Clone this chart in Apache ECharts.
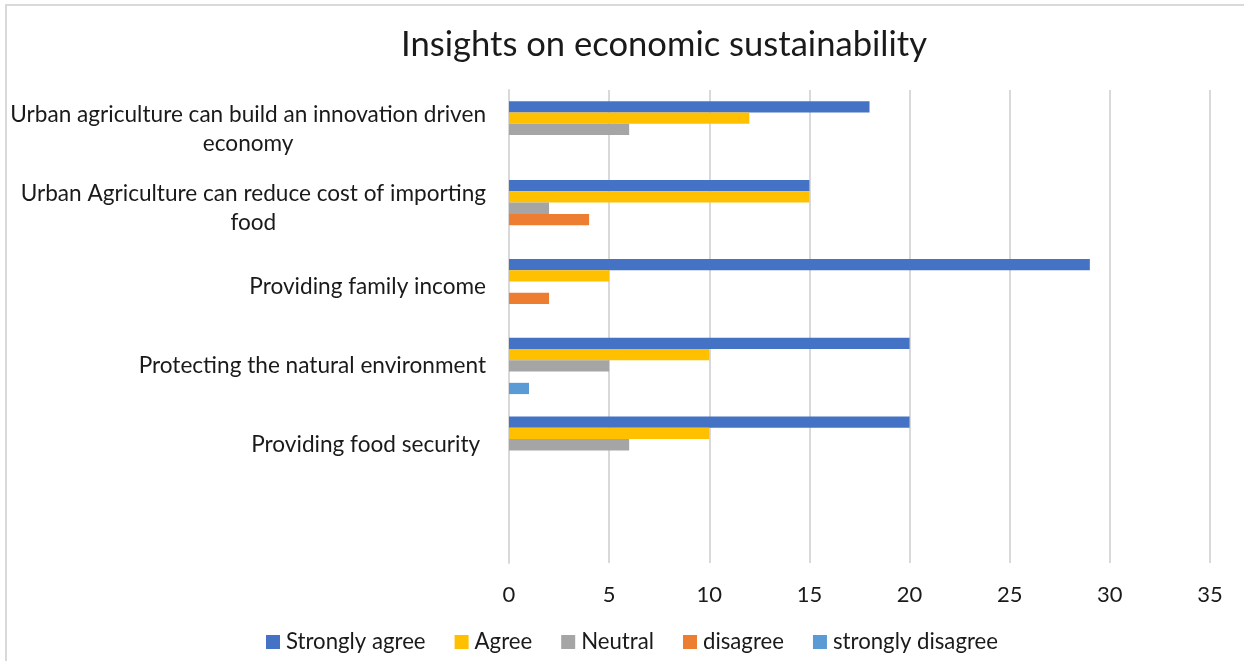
<!DOCTYPE html>
<html>
<head>
<meta charset="utf-8">
<script src="https://cdn.jsdelivr.net/npm/echarts@6/dist/echarts.min.js"></script>
<style>
  html, body { margin: 0; padding: 0; background: #fff; }
  #chart { width: 1244px; height: 661px; }
</style>
</head>
<body>
<div id="chart"></div>
<script>
// Survey statements (top to bottom); the last slot is an empty band
const categories = [
  'Urban agriculture can build an innovation driven\neconomy',
  'Urban Agriculture can reduce cost of importing\nfood',
  'Providing family income',
  'Protecting the natural environment',
  'Providing food security ',
  ''
];
const seriesNames = ['Strongly agree', 'Agree', 'Neutral', 'disagree', 'strongly disagree'];
const stronglyAgree    = [18, 15, 29, 20, 20, null];
const agree            = [12, 15, 5, 10, 10, null];
const neutral          = [6, 2, 0, 5, 6, null];
const disagree         = [0, 4, 2, 0, 0, null];
const stronglyDisagree = [0, 0, 0, 1, 0, null];
const xTicks = { min: 0, max: 35, interval: 5 };

const colors = ['#4472C4', '#FFC000', '#A5A5A5', '#ED7D31', '#5B9BD5'];
const values = [stronglyAgree, agree, neutral, disagree, stronglyDisagree];
const FONT = 'Lato';
const INK = '#1a1a1a';

const chart = echarts.init(document.getElementById('chart'));
chart.setOption({
  animation: false,
  textStyle: { fontFamily: FONT },
  graphic: [{
    type: 'rect',
    shape: { x: 6, y: 5, width: 1300, height: 700 },
    style: { fill: 'none', stroke: '#d9d9d9', lineWidth: 2 },
    silent: true, z: -1
  }],
  title: {
    text: 'Insights on economic sustainability',
    left: 659, top: 22, textAlign: 'center',
    textStyle: { fontFamily: FONT, fontSize: 34.6, fontWeight: 'normal', color: INK }
  },
  legend: {
    data: seriesNames,
    bottom: 3, left: 261,
    itemWidth: 14, itemHeight: 14, itemGap: 29,
    icon: 'rect',
    textStyle: { fontFamily: FONT, fontSize: 22.2, color: INK, padding: [0, 0, 0, 1] }
  },
  grid: { left: 509, right: 34, top: 90, bottom: 98, containLabel: false },
  xAxis: {
    type: 'value',
    min: xTicks.min, max: xTicks.max, interval: xTicks.interval,
    axisLine: { show: false }, axisTick: { show: false },
    splitLine: { lineStyle: { color: '#d9d9d9', width: 2 } },
    axisLabel: { fontFamily: FONT, fontSize: 22, color: INK, margin: 21 }
  },
  yAxis: {
    type: 'category',
    data: categories,
    inverse: true,
    axisLine: { lineStyle: { color: '#d9d9d9', width: 2 } },
    axisTick: { show: false },
    axisLabel: {
      margin: 23,
      align: 'right',
      // each wrapped line is centred inside the right-aligned label block
      formatter: v => v.split('\n').map(l => '{c|' + l + '}').join('\n'),
      rich: {
        c: { fontFamily: FONT, fontSize: 22.6, color: INK, lineHeight: 29, align: 'center' }
      }
    }
  },
  series: seriesNames.map((name, i) => ({
    name, type: 'bar',
    data: values[i],
    barGap: '0%', barCategoryGap: '28.5%',
    itemStyle: { color: colors[i] }
  }))
});
</script>
</body>
</html>
